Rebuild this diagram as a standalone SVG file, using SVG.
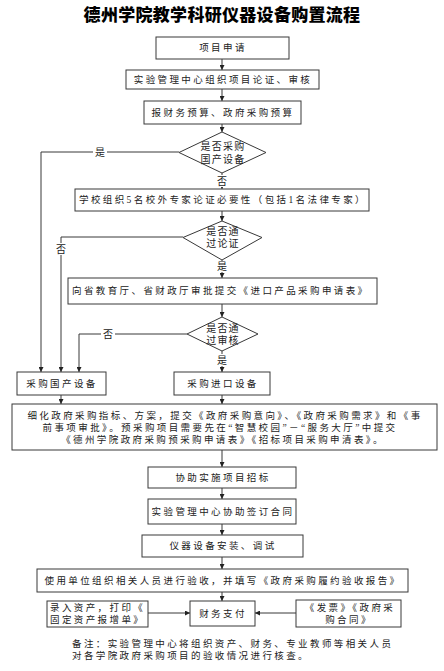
<svg xmlns="http://www.w3.org/2000/svg" width="444" height="671" viewBox="0 0 444 671">
<defs>
<marker id="ah" viewBox="0 0 10 10" refX="10" refY="5" markerWidth="5" markerHeight="5" orient="auto" markerUnits="userSpaceOnUse"><path d="M0,0 L10,5 L0,10 z" fill="#222"/></marker>
<style>
.b{fill:#fff;stroke:#383838;stroke-width:1}
.t{font-family:"Liberation Serif","Noto Sans CJK SC",serif;font-size:9.5px;letter-spacing:2.4px;fill:#222;dominant-baseline:central}
.c{text-anchor:middle}
.d{font-size:10px;letter-spacing:1.2px}
.l{fill:none;stroke:#383838;stroke-width:1}
.a{marker-end:url(#ah)}
.lb{font-family:"Liberation Serif","Noto Sans CJK SC",serif;font-size:10px;fill:#222;text-anchor:middle;dominant-baseline:central}
.title{font-family:"Liberation Serif","Noto Sans CJK SC",serif;font-size:17px;font-weight:900;fill:#000;text-anchor:middle;dominant-baseline:central;letter-spacing:0.3px}
</style>
</defs>
<rect width="444" height="671" fill="#fff"/>
<text class="title" x="222" y="15">德州学院教学科研仪器设备购置流程</text>

<g id="connectors">
<path class="l a" d="M222,59 V70"/>
<path class="l a" d="M222,89 V101"/>
<path class="l a" d="M222,124 V132"/>
<path class="l a" d="M179,152 H41 V372"/>
<path class="l a" d="M222,173 V189"/>
<path class="l a" d="M222,211 V221"/>
<path class="l a" d="M183,237 H61 V372"/>
<path class="l a" d="M222,260 V278"/>
<path class="l a" d="M222,304 V317"/>
<path class="l a" d="M187,334 H79 V372"/>
<path class="l a" d="M222,351 V372"/>
<path class="l a" d="M61,395 V404"/>
<path class="l a" d="M222,395 V404"/>
<path class="l a" d="M222,450 V467"/>
<path class="l a" d="M222,488 V499"/>
<path class="l a" d="M222,524 V535"/>
<path class="l a" d="M222,557 V569"/>
<path class="l a" d="M222,592 V601"/>
<path class="l a" d="M148,613 H190"/>
<path class="l a" d="M296,613 H255"/>
<rect x="93" y="145" width="14" height="14" fill="#fff"/>
<text class="lb" x="100" y="152">是</text>
<rect x="215" y="175" width="14" height="12" fill="#fff"/>
<text class="lb" x="222" y="181">否</text>
<rect x="54" y="243" width="14" height="12" fill="#fff"/>
<text class="lb" x="61" y="249">否</text>
<rect x="215" y="261" width="14" height="11" fill="#fff"/>
<text class="lb" x="222" y="266">是</text>
<rect x="101" y="327" width="14" height="14" fill="#fff"/>
<text class="lb" x="108" y="334">否</text>
<rect x="215" y="354" width="14" height="12" fill="#fff"/>
<text class="lb" x="222" y="360">是</text>
</g>

<g id="n1"><rect class="b" x="156" y="37" width="133" height="22"/><text class="t c" x="223" y="48">项目申请</text></g>
<g id="n2"><rect class="b" x="126" y="70" width="193" height="19"/><text class="t c" x="223" y="79.5">实验管理中心组织项目论证、审核</text></g>
<g id="n3"><rect class="b" x="144" y="101" width="157" height="23"/><text class="t c" x="223" y="112.5">报财务预算、政府采购预算</text></g>
<g id="d1"><path class="b" d="M222,132 L266,152.5 L222,173 L179,152.5 z"/><text class="t c d" x="223" y="146">是否采购<tspan x="223" dy="13">国产设备</tspan></text></g>
<g id="n4"><rect class="b" x="75" y="189" width="294" height="22"/><text class="t c" x="223" y="200">学校组织5名校外专家论证必要性（包括1名法律专家）</text></g>
<g id="d2"><path class="b" d="M222,221 L262,237.5 L222,260 L183,237.5 z"/><text class="t c d" x="223" y="231">是否通<tspan x="223" dy="12">过论证</tspan></text></g>
<g id="n5"><rect class="b" x="68" y="278" width="309" height="26"/><text class="t" x="72" y="291">向省教育厅、省财政厅审批提交《进口产品采购申请表》</text></g>
<g id="d3"><path class="b" d="M222,317 L258,334 L222,351 L187,334 z"/><text class="t c d" x="223" y="328">是否通<tspan x="223" dy="12">过审核</tspan></text></g>
<g id="n6"><rect class="b" x="17" y="372" width="89" height="23"/><text class="t c" x="62" y="383.5">采购国产设备</text></g>
<g id="n7"><rect class="b" x="174" y="372" width="96" height="23"/><text class="t c" x="223" y="383.5">采购进口设备</text></g>
<g id="n8"><rect class="b" x="12" y="404" width="425" height="46"/>
<text class="t c" x="225" y="415.5">细化政府采购指标、方案，提交《政府采购意向》、《政府采购需求》和《事<tspan x="220" dy="12">前事项审批》。预采购项目需要先在“智慧校园”－“服务大厅”中提交</tspan><tspan x="223" dy="12">《德州学院政府采购预采购申请表》《招标项目采购申清表》。</tspan></text></g>
<g id="n9"><rect class="b" x="148" y="467" width="148" height="21"/><text class="t c" x="223" y="477.5">协助实施项目招标</text></g>
<g id="n10"><rect class="b" x="148" y="499" width="148" height="25"/><text class="t c" x="223" y="511.5">实验管理中心协助签订合同</text></g>
<g id="n11"><rect class="b" x="142" y="535" width="161" height="22"/><text class="t c" x="223" y="546">仪器设备安装、调试</text></g>
<g id="n12"><rect class="b" x="37" y="569" width="371" height="23"/><text class="t c" x="223" y="580.5">使用单位组织相关人员进行验收，并填写《政府采购履约验收报告》</text></g>
<g id="n13"><rect class="b" x="190" y="601" width="65" height="25"/><text class="t c" x="223" y="613.5">财务支付</text></g>
<g id="n14"><rect class="b" x="47" y="601" width="101" height="26"/><text class="t" x="50" y="608">录入资产，打印《<tspan x="50" dy="12">固定资产报增单》</tspan></text></g>
<g id="n15"><rect class="b" x="296" y="600" width="105" height="27"/><text class="t c" x="350" y="608">《发票》《政府采<tspan x="349" dy="12">购合同》</tspan></text></g>
<g id="note"><text class="t" x="72" y="644">备注：实验管理中心将组织资产、财务、专业教师等相关人员<tspan x="72" dy="12">对各学院政府采购项目的验收情况进行核查。</tspan></text></g>
</svg>
